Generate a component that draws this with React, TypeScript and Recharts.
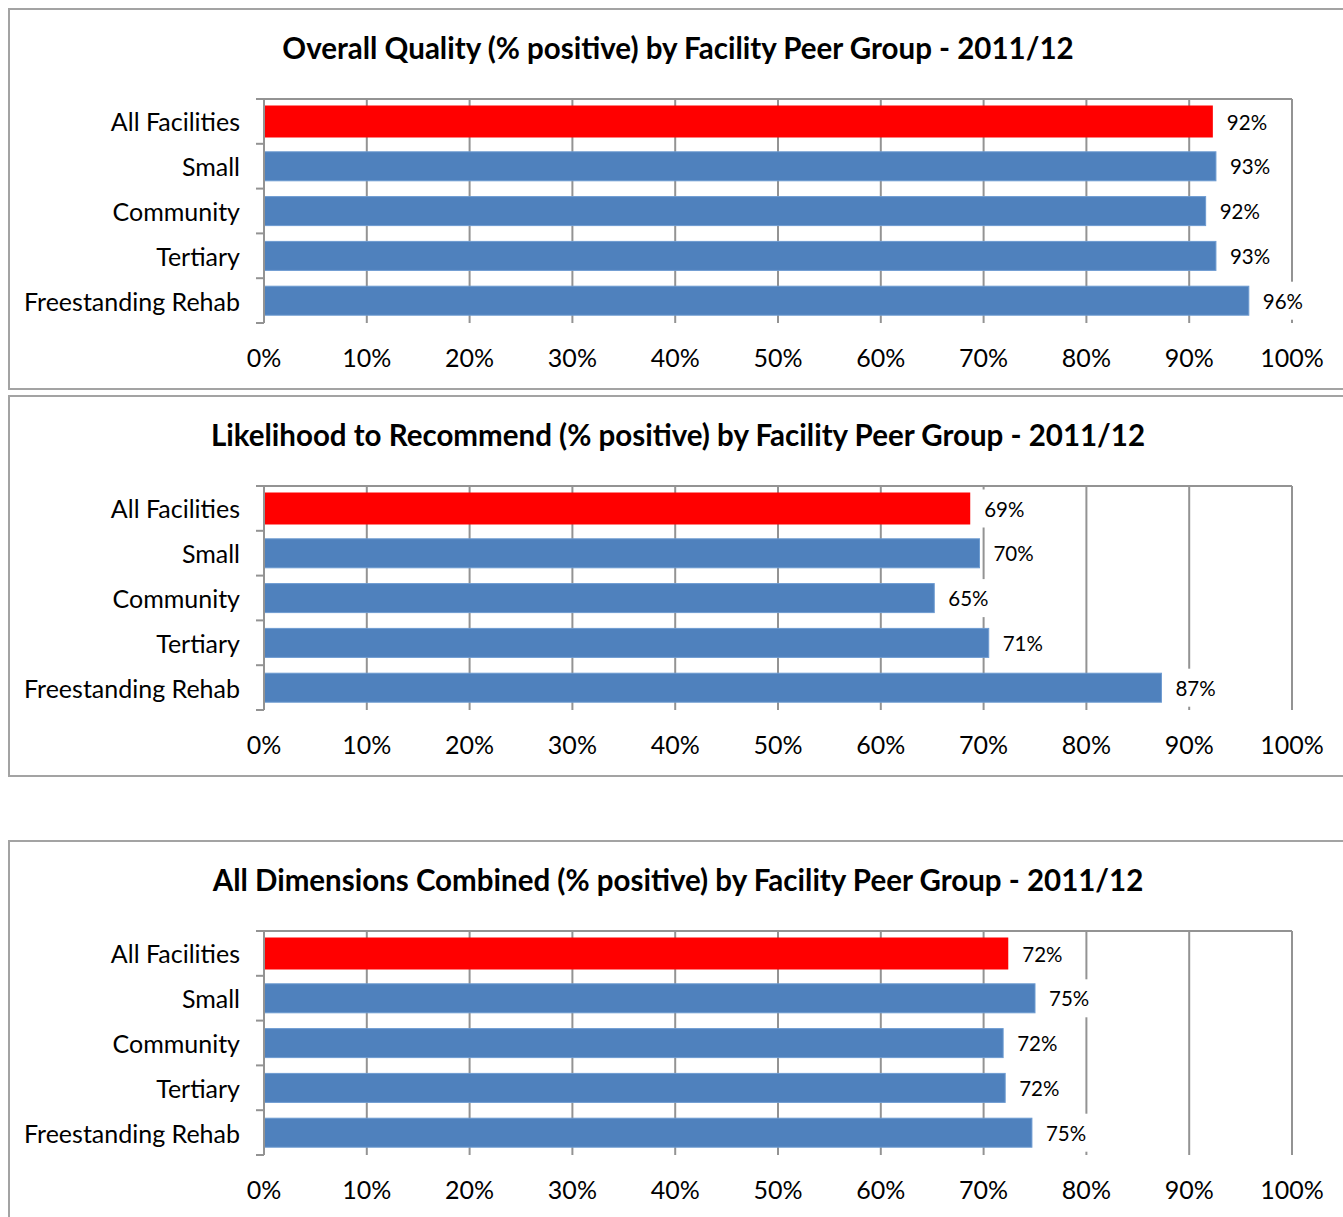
import { BarChart, Bar, XAxis, YAxis, CartesianGrid, Cell, LabelList } from 'recharts';

const CATEGORIES = ['All Facilities', 'Small', 'Community', 'Tertiary', 'Freestanding Rehab'];

const QUALITY = [92.3, 92.6, 91.6, 92.6, 95.8];
const RECOMMEND = [68.7, 69.6, 65.2, 70.5, 87.3];
const COMBINED = [72.4, 75.0, 71.9, 72.1, 74.7];

const X_TICKS = [0, 10, 20, 30, 40, 50, 60, 70, 80, 90, 100];

const TITLES = [
    'Overall Quality (% positive) by Facility Peer Group - 2011/12',
    'Likelihood to Recommend (% positive) by Facility Peer Group - 2011/12',
    'All Dimensions Combined (% positive) by Facility Peer Group - 2011/12',
];

const RED = '#ff0000';
const BLUE = '#4f81bd';
const GRID = '#939393';
const FONT = 'Lato, "Open Sans", sans-serif';

// layout of one panel (px, relative to the panel's outer edge)
const CHART_W = 1345;
const CHART_H = 382;
const PLOT_TOP = 91;
const PLOT_BOTTOM = 315;
const Y_AXIS_W = 256;
const BAND = (PLOT_BOTTOM - PLOT_TOP) / CATEGORIES.length;

const CategoryTick = (props: any) => {
    const { x, y, payload, index } = props;
    const last = index === CATEGORIES.length - 1;
    return (
        <g>
            <line x1={x - 8} x2={x} y1={y - BAND / 2} y2={y - BAND / 2} stroke={GRID} strokeWidth={2} />
            {last && <line x1={x - 8} x2={x} y1={y + BAND / 2} y2={y + BAND / 2} stroke={GRID} strokeWidth={2} />}
            <text x={x - 24} y={y} textAnchor="end" dominantBaseline="central" fontFamily={FONT} fontSize={25} fill="#000">
                {payload.value}
            </text>
        </g>
    );
};

const ValueTick = (props: any) => {
    const { x, y, payload } = props;
    return (
        <text x={x} y={y + 34} textAnchor="middle" dominantBaseline="central" fontFamily={FONT} fontSize={25} fill="#000">
            {payload.value}%
        </text>
    );
};

const BarShape = (props: any) => {
    const { x, y, width, height, fill, index } = props;
    const grow = index === 0 ? 1.5 : 0;
    return (
        <rect
            x={x}
            y={y - grow}
            width={width}
            height={height + grow * 2}
            fill={fill}
            stroke={index === 0 ? 'none' : '#6d9bd1'}
            strokeWidth={1}
        />
    );
};

const ValueLabel = (props: any) => {
    const { x, y, width, height, value } = props;
    const lx = x + width + 14;
    const cy = y + height / 2;
    return (
        <g>
            <rect x={lx - 3} y={cy - 19} width={47} height={38} fill="#fff" />
            <text x={lx} y={cy} dominantBaseline="central" fontFamily={FONT} fontSize={20.5} fill="#000">
                {Math.round(value)}%
            </text>
        </g>
    );
};

function Panel({ title, values, top }: { title: string; values: number[]; top: number }) {
    const data = CATEGORIES.map((name, i) => ({ name, value: values[i] }));
    return (
        <div
            style={{
                position: 'absolute',
                left: 8,
                top,
                width: 1360,
                height: CHART_H,
                boxSizing: 'border-box',
                border: '2px solid #a3a3a3',
                background: '#fff',
            }}
        >
            <div
                style={{
                    position: 'absolute',
                    left: -2,
                    top: 19,
                    width: 1340,
                    textAlign: 'center',
                    fontFamily: FONT,
                    fontWeight: 700,
                    fontSize: 29.5,
                    lineHeight: '38px',
                    color: '#000',
                }}
            >
                {title}
            </div>
            <div style={{ position: 'absolute', left: -2, top: -2 }}>
                <BarChart
                    width={CHART_W}
                    height={CHART_H}
                    data={data}
                    layout="vertical"
                    margin={{ top: PLOT_TOP - 8, right: 61, bottom: CHART_H - PLOT_BOTTOM - 40, left: 0 }}
                >
                    <CartesianGrid xAxisId="bottom" horizontal={false} stroke={GRID} strokeWidth={2} />
                    <XAxis
                        xAxisId="top"
                        orientation="top"
                        type="number"
                        domain={[0, 100]}
                        ticks={X_TICKS}
                        height={8}
                        tickSize={8}
                        axisLine={{ stroke: GRID, strokeWidth: 2 }}
                        tickLine={{ stroke: GRID, strokeWidth: 2 }}
                        tick={() => <g />}
                    />
                    <XAxis
                        xAxisId="bottom"
                        orientation="bottom"
                        type="number"
                        domain={[0, 100]}
                        ticks={X_TICKS}
                        height={40}
                        tickSize={0}
                        tickMargin={0}
                        axisLine={false}
                        tickLine={false}
                        tick={<ValueTick />}
                    />
                    <YAxis
                        type="category"
                        dataKey="name"
                        width={Y_AXIS_W}
                        tickSize={0}
                        tickMargin={0}
                        axisLine={{ stroke: GRID, strokeWidth: 2 }}
                        tickLine={false}
                        tick={<CategoryTick />}
                        interval={0}
                    />
                    <Bar dataKey="value" xAxisId="bottom" barSize={29} shape={<BarShape />} isAnimationActive={false}>
                        {data.map((entry, index) => (
                            <Cell key={`cell-${index}`} fill={index === 0 ? RED : BLUE} />
                        ))}
                        <LabelList dataKey="value" content={<ValueLabel />} />
                    </Bar>
                </BarChart>
            </div>
        </div>
    );
}

export default function App() {
    return (
        <div style={{ position: 'absolute', left: 0, top: 0, width: 1343, height: 1217, overflow: 'hidden', background: '#fff' }}>
            <Panel title={TITLES[0]} values={QUALITY} top={8} />
            <Panel title={TITLES[1]} values={RECOMMEND} top={395} />
            <Panel title={TITLES[2]} values={COMBINED} top={840} />
        </div>
    );
}
